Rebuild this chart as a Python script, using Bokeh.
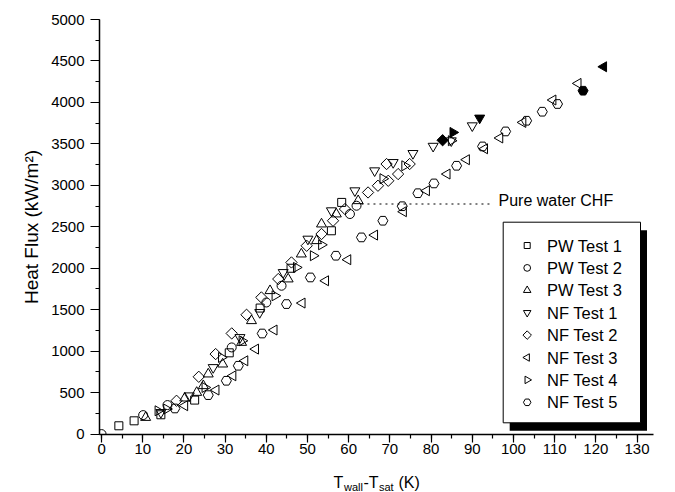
import math
from bokeh.plotting import figure
from bokeh.layouts import column
from bokeh.models import Range1d, Label, FixedTicker, BoxAnnotation
from bokeh.core.properties import value
from bokeh.embed import file_html
from bokeh.resources import INLINE

# ---------------- data ----------------
pw1_x = [4.2, 7.9, 14.4, 22.6, 31.0, 38.5, 46.0, 55.8, 58.3]
pw1_y = [100, 160, 233, 410, 980, 1520, 2000, 2452, 2794]

pw2_x = [0.0, 10.1, 16.0, 31.6, 40.0, 43.7, 60.3, 61.9]
pw2_y = [0, 229, 350, 1045, 1587, 1789, 2654, 2754]

pw3_x = [10.7, 20.2, 23.1, 24.7, 25.9, 29.4, 34.0, 36.4, 40.9, 45.3, 48.5, 52.2, 53.4, 57.0, 62.3]
pw3_y = [200, 434, 502, 583, 724, 844, 1105, 1367, 1729, 1870, 2171, 2332, 2533, 2654, 2814]

nf1_x = [14.4, 21.3, 27.1, 33.6, 38.4, 44.1, 50.1, 55.8, 61.5, 66.3, 70.8, 75.6, 80.5, 84.9, 90.0]
nf1_y = [261, 462, 803, 1165, 1467, 1949, 2352, 2694, 2935, 3176, 3276, 3385, 3472, 3538, 3719]

nf2_x = [18.2, 23.6, 27.7, 31.6, 35.2, 38.8, 42.9, 46.1, 49.8, 53.4, 56.2, 59.1, 64.7, 67.1, 69.6, 69.2, 72.0, 74.8]
nf2_y = [402, 691, 965, 1214, 1439, 1648, 1870, 2070, 2271, 2413, 2573, 2714, 2914, 2995, 3055, 3257, 3136, 3257]

nf3_x = [20.2, 27.8, 31.9, 34.8, 37.4, 41.9, 48.7, 54.4, 59.8, 66.3, 73.3, 78.9, 83.9, 88.6, 93.0, 96.7, 102.3, 109.6, 115.7]
nf3_y = [342, 531, 703, 884, 1025, 1255, 1580, 1849, 2103, 2400, 2682, 2935, 3136, 3309, 3441, 3571, 3759, 4029, 4229]

nf4_x = [13.7, 15.8, 25.1, 29.1, 34.1, 42.1, 47.3, 51.4, 53.4, 68.3, 73.6, 84.9]
nf4_y = [281, 302, 562, 924, 1125, 1668, 2010, 2151, 2283, 3080, 3236, 3538]

nf5_x = [17.8, 25.9, 30.3, 33.2, 39.0, 44.9, 50.7, 56.9, 63.1, 68.3, 73.0, 76.8, 80.7, 86.2, 92.5, 98.1, 103.2, 107.0, 110.7]
nf5_y = [309, 470, 643, 824, 1213, 1568, 1889, 2151, 2372, 2573, 2748, 2905, 3023, 3236, 3469, 3650, 3779, 3888, 3981]

# critical heat flux points (filled markers)
chf_nf1 = (91.8, 3812)
chf_nf2 = (82.8, 3544)
chf_nf3 = (121.9, 4430)
chf_nf4 = (85.3, 3638)
chf_nf5 = (116.9, 4141)

pure_water_chf = 2775
chf_line_x = [63.1, 95.0]

x_ticks = list(range(0, 131, 10))
x_minor = list(range(0, 136, 5))
y_ticks = list(range(0, 5001, 500))
y_minor = list(range(0, 5001, 250))

series_names = ["PW Test 1", "PW Test 2", "PW Test 3", "NF Test 1",
                "NF Test 2", "NF Test 3", "NF Test 4", "NF Test 5"]

# ---------------- layout ----------------
FONT = "Liberation Sans"
X0, X1 = -0.5, 134.0
Y0, Y1 = -5, 5000
FL, FT = 99, 19
FW, FH = 554, 415
FB = FT + FH
BR = 675 - FL - FW
xs = (X1 - X0) / FW   # data units per px
ys = (Y1 - Y0) / FH


def cx(px):
    return X0 + (px - FL) * xs


def cy(py):
    return Y0 + (FB - py) * ys


p = figure(frame_width=FW, frame_height=FH,
           min_border_left=FL, min_border_right=BR, min_border_top=FT, min_border_bottom=30,
           x_range=Range1d(X0, X1), y_range=Range1d(Y0, Y1),
           output_backend="svg", toolbar_location=None)
p.grid.visible = False
p.outline_line_color = None
p.background_fill_color = "white"
p.border_fill_color = "white"

for ax in (p.xaxis[0], p.yaxis[0]):
    ax.axis_line_width = 1.5
    ax.axis_line_color = "black"
    ax.major_tick_in = 0
    ax.minor_tick_out = 4
    ax.minor_tick_in = 0
    ax.major_tick_line_width = 1.2
    ax.minor_tick_line_width = 1.2
    ax.major_tick_line_color = "black"
    ax.minor_tick_line_color = "black"
    ax.major_label_text_font = FONT
    ax.major_label_text_font_size = "15px"
    ax.major_label_text_color = "black"

p.xaxis.major_tick_out = 8
p.xaxis.major_label_standoff = 1
p.yaxis.major_tick_out = 9
p.yaxis.major_label_standoff = 6

p.xaxis.ticker = FixedTicker(ticks=x_ticks, minor_ticks=x_minor)
p.yaxis.ticker = FixedTicker(ticks=y_ticks, minor_ticks=y_minor)
p.yaxis.axis_label = "Heat Flux (kW/m²)"
p.yaxis.axis_label_text_font = FONT
p.yaxis.axis_label_text_font_size = "19px"
p.yaxis.axis_label_text_font_style = "normal"
p.yaxis.axis_label_text_color = "black"
p.yaxis.axis_label_standoff = 6

markers = [("square", 0.0, 8), ("circle", 0.0, 9), ("triangle", 0.0, 10),
           ("inverted_triangle", 0.0, 10), ("square", math.pi / 4, 8),
           ("triangle", math.pi / 2, 10), ("triangle", -math.pi / 2, 10), ("hex", 0.0, 10)]
xs_list = [pw1_x, pw2_x, pw3_x, nf1_x, nf2_x, nf3_x, nf4_x, nf5_x]
ys_list = [pw1_y, pw2_y, pw3_y, nf1_y, nf2_y, nf3_y, nf4_y, nf5_y]

for (mk, ang, sz), sx, sy in zip(markers, xs_list, ys_list):
    p.scatter(sx, sy, marker=mk, angle=ang, size=sz,
              line_color="black", line_width=1, fill_color=None)

chf_points = [(chf_nf1, markers[3]), (chf_nf2, markers[4]), (chf_nf3, markers[5]),
              (chf_nf4, markers[6]), (chf_nf5, markers[7])]
for (px_, py_), (mk, ang, sz) in chf_points:
    p.scatter([px_], [py_], marker=mk, angle=ang, size=sz,
              line_color="black", line_width=1, fill_color="black")

# pure water CHF dotted line and label
p.line(chf_line_x, [pure_water_chf, pure_water_chf], line_color="black",
       line_width=1.2, line_dash="2 4")
p.add_layout(Label(x=cx(498), y=cy(200), text="Pure water CHF",
                   text_font=FONT, text_font_size="16px", text_color="black",
                   text_baseline="alphabetic"))

# ---------------- legend (drawn by hand, with drop shadow) ----------------
LB_L, LB_R, LB_T, LB_B = 502.7, 640.0, 221.7, 422.3
SH_X, SH_Y = 6.5, 8.0
p.add_layout(BoxAnnotation(left=cx(LB_L + SH_X), right=cx(LB_R + SH_X),
                           top=cy(LB_T + SH_Y), bottom=cy(LB_B + SH_Y),
                           fill_color="black", fill_alpha=1, line_color=None))
p.add_layout(BoxAnnotation(left=cx(LB_L), right=cx(LB_R), top=cy(LB_T), bottom=cy(LB_B),
                           fill_color="white", fill_alpha=1, line_color="black",
                           line_width=1, line_alpha=1))
ROW0, ROWH = 245.0, 22.4
for i, (nm, (mk, ang, sz)) in enumerate(zip(series_names, markers)):
    ry = ROW0 + i * ROWH
    p.scatter([cx(526.7)], [cy(ry)], marker=mk, angle=ang, size=sz * 0.75,
              line_color="black", line_width=1, fill_color=None, level="overlay")
    p.add_layout(Label(x=cx(546.5), y=cy(ry), text=nm, text_font=FONT,
                       text_font_size="16.5px", text_color="black", text_baseline="middle"))

# ---------------- x-axis title strip (with subscripts) ----------------
STRIP_H = 492 - (FT + FH + 30)
p2 = figure(frame_width=FW, frame_height=STRIP_H,
            min_border_left=FL, min_border_right=BR, min_border_top=0, min_border_bottom=0,
            x_range=p.x_range, y_range=Range1d(0, STRIP_H),
            x_axis_location=None, y_axis_location=None,
            output_backend="svg", toolbar_location=None)
p2.grid.visible = False
p2.outline_line_color = None
p2.background_fill_color = "white"
p2.border_fill_color = "white"

big_txt = ["T", "-T", "(K)"]
big_px = [333.0, 363.0, 398.0]
small_txt = ["wall", "sat"]
small_px = [343.5, 378.5]
p2.text(x=[cx(v) for v in big_px], y=[10] * len(big_txt), text=big_txt,
        text_font=value(FONT), text_font_size=value("16px"), text_color="black",
        text_baseline="alphabetic")
p2.text(x=[cx(v) for v in small_px], y=[6] * len(small_txt), text=small_txt,
        text_font=value(FONT), text_font_size=value("11px"), text_color="black",
        text_baseline="alphabetic")

layout = column(p, p2, spacing=0)
open("out.html", "w").write(file_html(layout, INLINE))
